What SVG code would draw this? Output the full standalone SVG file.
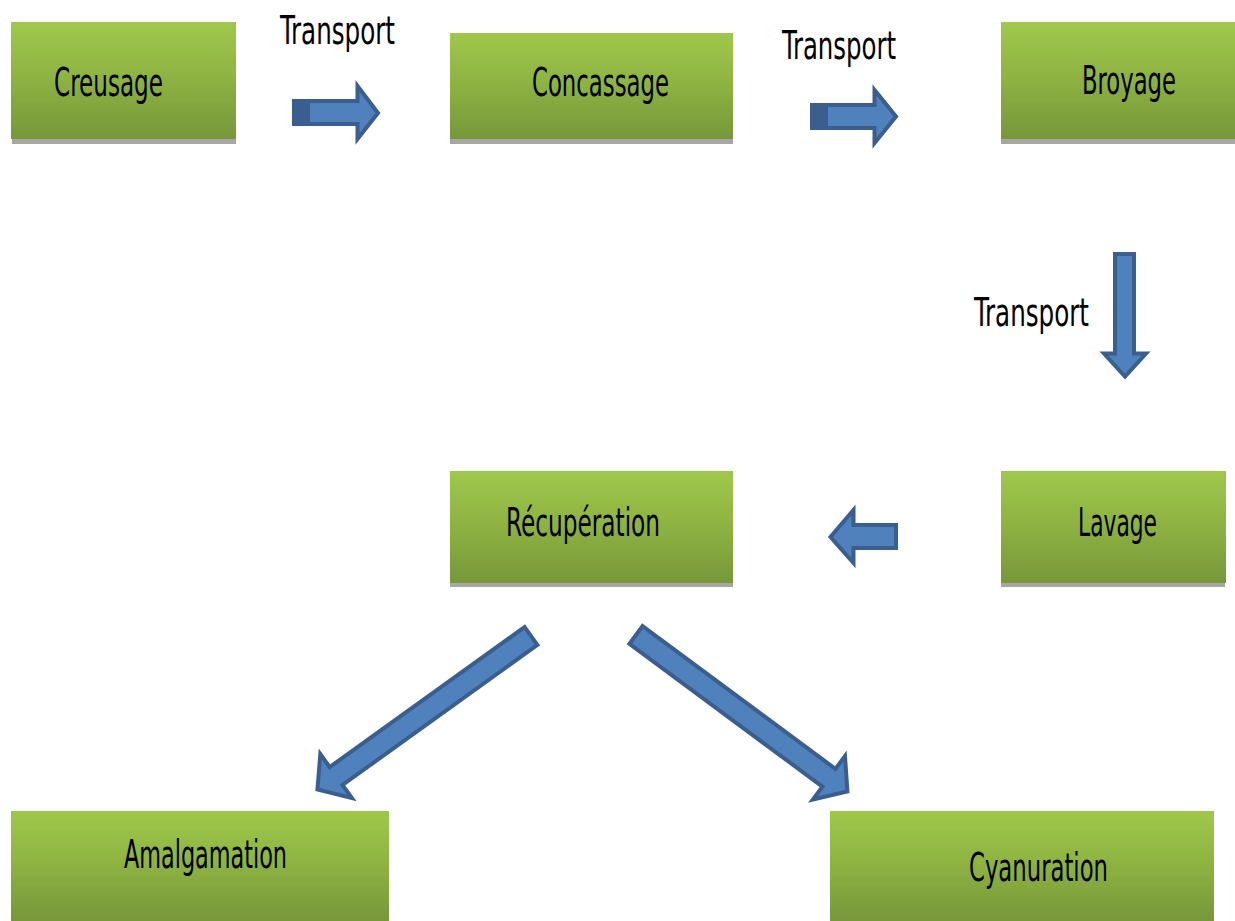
<svg xmlns="http://www.w3.org/2000/svg" width="1235" height="921" viewBox="0 0 1235 921">
<defs>
<linearGradient id="g" x1="0" y1="0" x2="0" y2="1">
<stop offset="0" stop-color="#9fc84b"/>
<stop offset="0.45" stop-color="#8fb442"/>
<stop offset="1" stop-color="#77973a"/>
</linearGradient>
</defs>
<style>
.box{fill:url(#g)}
.sh{fill:#a6a6a6}
.t{font-family:"DejaVu Sans Condensed","DejaVu Sans",sans-serif;font-size:39px;fill:#000}
.arr{fill:#4f81bd;stroke:#3a5f8f;stroke-width:4;stroke-linejoin:miter}
.dk{fill:#3a5f8f}
</style>
<rect width="1235" height="921" fill="#fff"/>
<g id="creusage">
<rect class="sh" x="12" y="137" width="224" height="7"/>
<rect class="box" x="11" y="22" width="225" height="117"/>
<text class="t" x="54" y="96" textLength="109" lengthAdjust="spacingAndGlyphs">Creusage</text>
</g>
<g id="concassage">
<rect class="sh" x="450" y="137" width="283" height="7"/>
<rect class="box" x="450" y="33" width="283" height="106"/>
<text class="t" x="532" y="96" textLength="137" lengthAdjust="spacingAndGlyphs">Concassage</text>
</g>
<g id="broyage">
<rect class="sh" x="1001" y="137" width="234" height="7"/>
<rect class="box" x="1001" y="22" width="234" height="117"/>
<text class="t" x="1082" y="94" textLength="94" lengthAdjust="spacingAndGlyphs">Broyage</text>
</g>
<g id="lavage">
<rect class="sh" x="1001" y="581" width="224" height="6"/>
<rect class="box" x="1001" y="471" width="225" height="112"/>
<text class="t" x="1078" y="536" textLength="79" lengthAdjust="spacingAndGlyphs">Lavage</text>
</g>
<g id="recuperation">
<rect class="sh" x="450" y="581" width="283" height="6"/>
<rect class="box" x="450" y="471" width="283" height="112"/>
<text class="t" x="506" y="536" textLength="154" lengthAdjust="spacingAndGlyphs">Récupération</text>
</g>
<g id="amalgamation">
<rect class="box" x="11" y="811" width="378" height="110"/>
<text class="t" x="124" y="868" textLength="163" lengthAdjust="spacingAndGlyphs">Amalgamation</text>
</g>
<g id="cyanuration">
<rect class="box" x="830" y="811" width="384" height="110"/>
<text class="t" x="969" y="881" textLength="139" lengthAdjust="spacingAndGlyphs">Cyanuration</text>
</g>
<g id="labels">
<text class="t" x="280" y="44" textLength="115" lengthAdjust="spacingAndGlyphs">Transport</text>
<text class="t" x="782" y="59" textLength="114" lengthAdjust="spacingAndGlyphs">Transport</text>
<text class="t" x="974" y="326" textLength="115" lengthAdjust="spacingAndGlyphs">Transport</text>
</g>
<g id="connectors">
<path class="arr" d="M294,101 H357.5 V86 L378,113 L357.5,139 V124 H294 Z"/>
<rect class="dk" x="292" y="99" width="18" height="27"/>
<path class="arr" d="M812,105 H874.5 V90 L896,116.5 L874.5,143 V128 H812 Z"/>
<rect class="dk" x="810" y="103" width="18" height="27"/>
<path class="arr" d="M1115,254 H1134 V353.5 H1146 L1125,376.5 L1104,353.5 H1115 Z"/>
<path class="arr" d="M896,525 V548 H853.5 V563 L830.5,537 L853.5,510 V525 Z"/>
<path class="arr" transform="translate(531,636) rotate(144.3)" d="M0,-11 L240,-11 L240,-27 L263,0 L240,27 L240,11 L0,11 Z"/>
<path class="arr" transform="translate(636,635) rotate(36.5)" d="M0,-11 L240,-11 L240,-27 L263,0 L240,27 L240,11 L0,11 Z"/>
</g>
</svg>
